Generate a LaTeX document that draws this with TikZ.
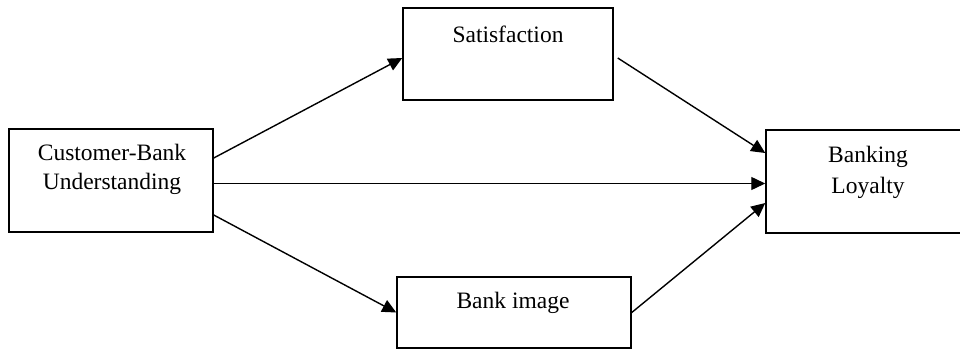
\documentclass[tikz,border=0pt]{standalone}
\usepackage{fontspec}
\setmainfont{Liberation Serif}
\usetikzlibrary{arrows.meta}
\begin{document}
\begin{tikzpicture}[x=1pt,y=-1pt,
  box/.style={draw,line width=1.5pt,inner sep=0pt},
  txt/.style={anchor=base,inner sep=0pt,font=\fontsize{23.5}{28}\selectfont},
  conn/.style={line width=1.4pt,-{Triangle[length=14pt,width=13pt]}}]
\useasboundingbox (0,0) rectangle (960,351);
\fill[white] (0,0) rectangle (960,351);
% boxes
\node[box,minimum width=204pt,minimum height=103pt] (cb) at (111,180.5) {};
\node[box,minimum width=210pt,minimum height=92pt] (sat) at (508,54) {};
\node[box,minimum width=206pt,minimum height=103pt] (bl) at (869,181.5) {};
\node[box,minimum width=234pt,minimum height=71pt] (bi) at (514,312.5) {};
% texts
\node[txt] (cb1) at (112,160) {Customer-Bank};
\node[txt] (cb2) at (112,189) {Understanding};
\node[txt] (sat1) at (508,42) {Satisfaction};
\node[txt] (bi1) at (513,308) {Bank image};
\node[txt] (bl1) at (868,162) {Banking};
\node[txt] (bl2) at (868,193) {Loyalty};
% connectors
\draw[conn] ([yshift=22.5pt]cb.east) -- ([yshift=-4pt]sat.west);
\draw[conn] ([xshift=4pt,yshift=-4pt]sat.east) -- ([yshift=28.5pt]bl.west);
\draw[conn] ([yshift=-3pt]cb.east) -- ([yshift=-2pt]bl.west);
\draw[conn] ([yshift=-34.5pt]cb.east) -- (bi.west);
\draw[conn] (bi.east) -- ([yshift=-21.5pt]bl.west);
\end{tikzpicture}
\end{document}
